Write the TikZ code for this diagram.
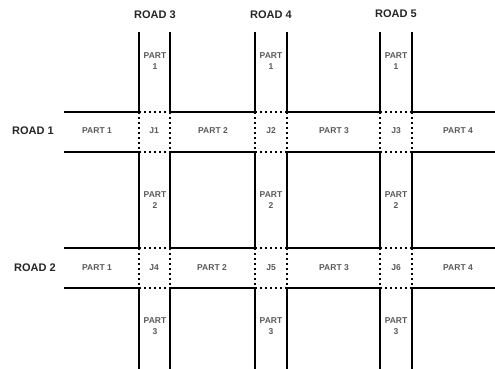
\documentclass[tikz,border=0pt]{standalone}
\usepackage{fontspec}
\setmainfont{Liberation Sans}
\begin{document}
\begin{tikzpicture}[x=1pt,y=-1pt,
  wall/.style={line width=1.6pt,black},
  dots/.style={line width=1.4pt,black,dash pattern=on 1.6pt off 3.4pt},
  road/.style={font=\bfseries\fontsize{11}{12}\selectfont,text=black!85},
  part/.style={font=\bfseries\fontsize{8.5}{11}\selectfont,text=black!65,align=center,inner sep=0pt}]
\useasboundingbox (0,0) rectangle (495,369);
% vertical road edges
\foreach \xa/\xb in {139/170,255/287,380/412}{
  \foreach \x in {\xa,\xb}{
    \draw[wall] (\x,32) -- (\x,112);
    \draw[wall] (\x,152) -- (\x,248);
    \draw[wall] (\x,288) -- (\x,369);
    \draw[dots] (\x,112) -- (\x,152);
    \draw[dots] (\x,248) -- (\x,288);
  }
}
% horizontal road edges
\foreach \y in {112,152,248,288}{
  \draw[wall] (64,\y) -- (139,\y);
  \draw[wall] (170,\y) -- (255,\y);
  \draw[wall] (287,\y) -- (380,\y);
  \draw[wall] (412,\y) -- (495,\y);
  \draw[dots] (139,\y) -- (170,\y);
  \draw[dots] (255,\y) -- (287,\y);
  \draw[dots] (380,\y) -- (412,\y);
}
% road labels
\node[road] (r3) at (155,15) {ROAD 3};
\node[road] (r4) at (271,15) {ROAD 4};
\node[road] (r5) at (396,14) {ROAD 5};
\node[road] (r1) at (33,131) {ROAD 1};
\node[road] (r2) at (35,268) {ROAD 2};
% vertical part labels
\foreach \x/\n in {155/a,271/b,396/c}{
  \node[part] (v1\n) at (\x,61) {PART\\1};
  \node[part] (v2\n) at (\x,200) {PART\\2};
  \node[part] (v3\n) at (\x,326) {PART\\3};
}
% horizontal part labels and junctions
\node[part] (h11) at (97,131) {PART 1};
\node[part] (j1) at (154,131) {J1};
\node[part] (h12) at (213,131) {PART 2};
\node[part] (j2) at (271,131) {J2};
\node[part] (h13) at (334,131) {PART 3};
\node[part] (j3) at (396,131) {J3};
\node[part] (h14) at (458,131) {PART 4};
\node[part] (h21) at (97,268) {PART 1};
\node[part] (j4) at (154,268) {J4};
\node[part] (h22) at (212,268) {PART 2};
\node[part] (j5) at (271,268) {J5};
\node[part] (h23) at (334,268) {PART 3};
\node[part] (j6) at (396,268) {J6};
\node[part] (h24) at (458,268) {PART 4};
\end{tikzpicture}
\end{document}
